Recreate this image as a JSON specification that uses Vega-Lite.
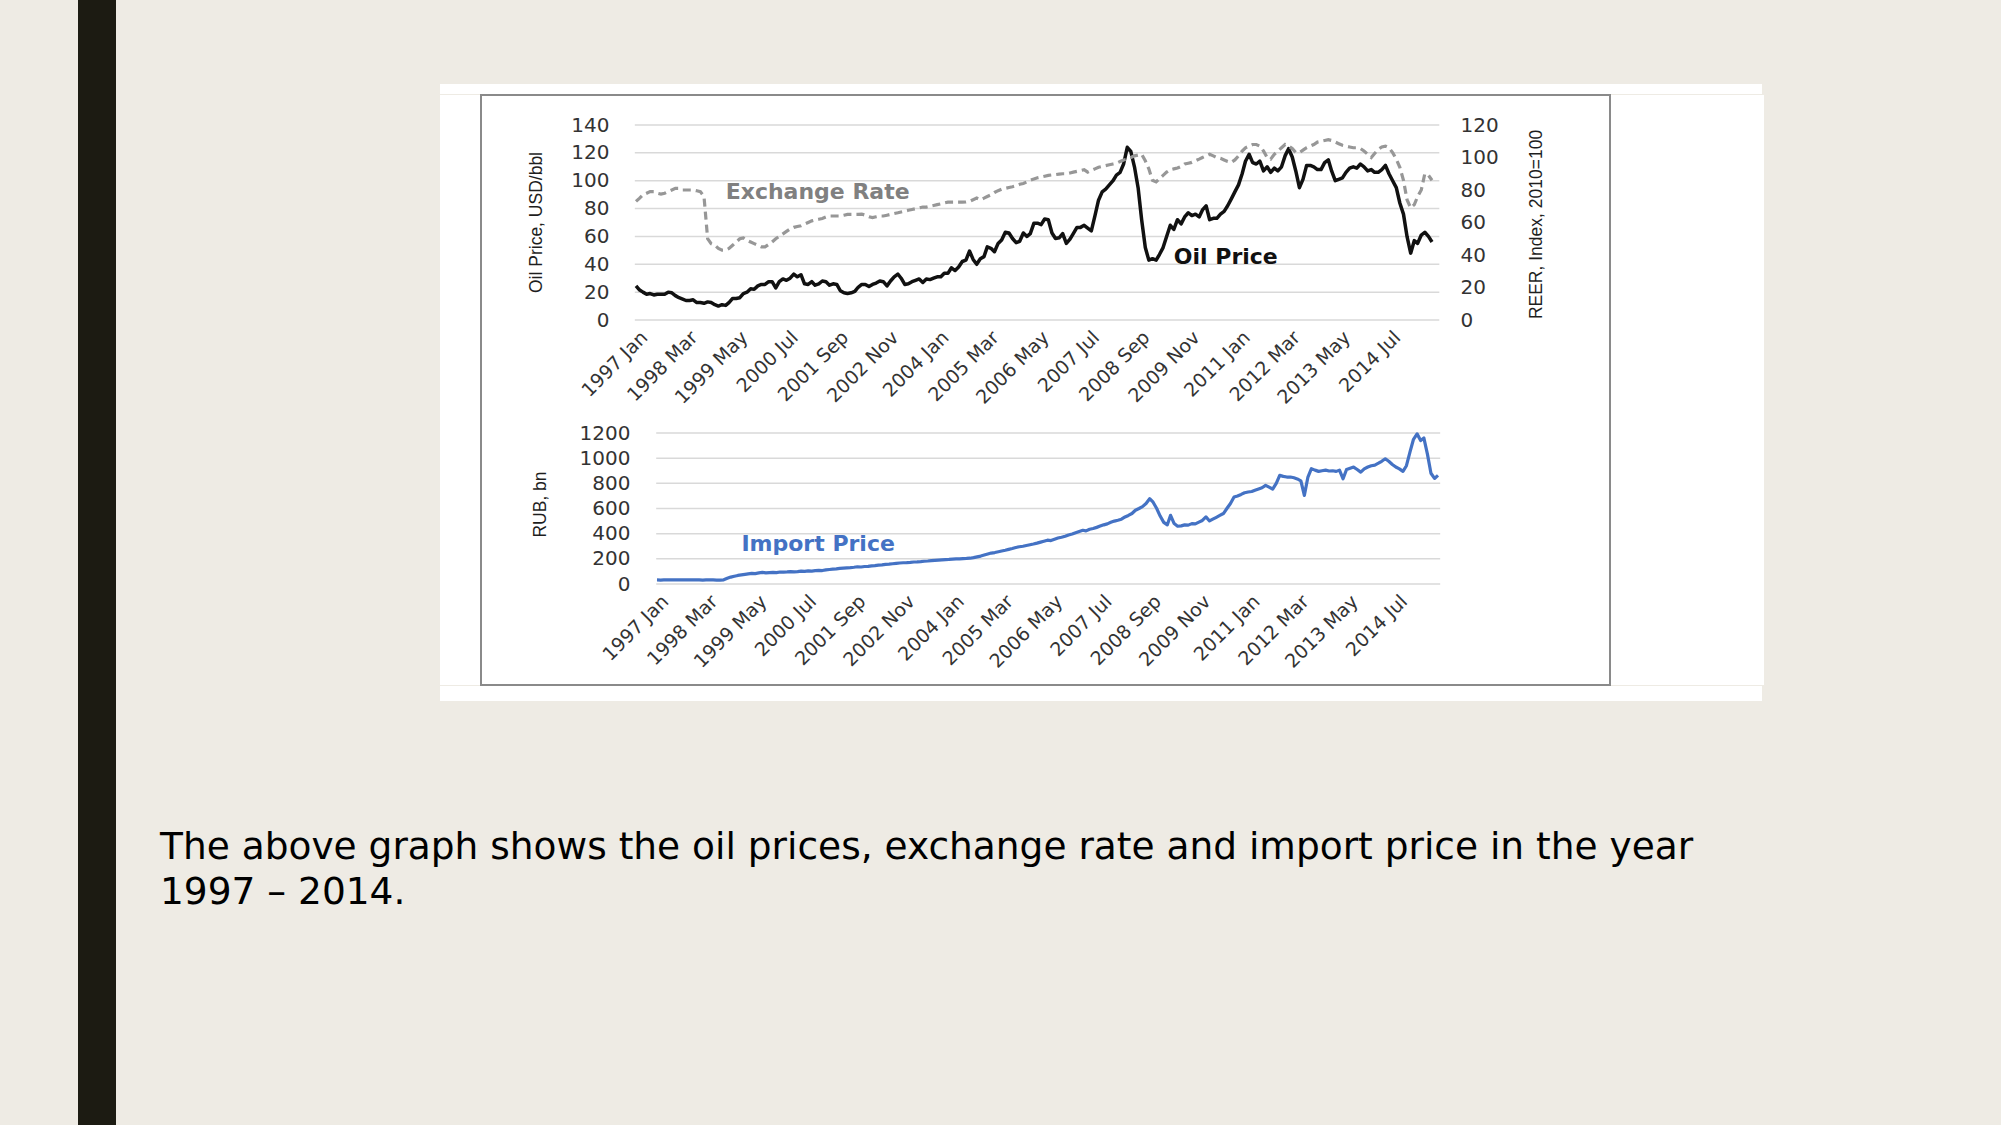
{
  "$schema": "https://vega.github.io/schema/vega-lite/v6.json",
  "background": "#EEEBE4",
  "padding": {"left": 78, "top": 0, "right": 239, "bottom": 0},
  "spacing": 44,
  "config": {
    "view": {"stroke": null},
    "concat": {"spacing": 0},
    "axis": {"zindex": 1, "domain": false, "ticks": false, "grid": false, "labelFont": "DejaVu Sans", "labelColor": "#333333", "titleFont": "Liberation Sans", "titleFontWeight": "normal", "titleColor": "#1e1e1e", "titleFontSize": 17.5, "labelOverlap": false, "labelFlush": false}
  },
  "datasets": {
    "m": [
      {"d":"1997-01","o":24.5,"r":73,"i":32},{"d":"1997-02","o":21.5,"r":75,"i":31},{"d":"1997-03","o":20,"r":77,"i":32},{"d":"1997-04","o":18.5,"r":78,"i":32},{"d":"1997-05","o":19,"r":79,"i":33},{"d":"1997-06","o":18,"r":79,"i":32},{"d":"1997-07","o":18.5,"r":78,"i":33},{"d":"1997-08","o":18.5,"r":77.5,"i":33},{"d":"1997-09","o":18.5,"r":78,"i":32},{"d":"1997-10","o":20,"r":79,"i":33},{"d":"1997-11","o":19.5,"r":80,"i":33},{"d":"1997-12","o":17.5,"r":81,"i":32},
      {"d":"1998-01","o":16,"r":81,"i":32},{"d":"1998-02","o":15,"r":80,"i":31},{"d":"1998-03","o":14,"r":80,"i":32},{"d":"1998-04","o":14,"r":80,"i":32},{"d":"1998-05","o":14.5,"r":80,"i":32},{"d":"1998-06","o":12.5,"r":79.5,"i":31},{"d":"1998-07","o":12.5,"r":79,"i":31},{"d":"1998-08","o":12,"r":76,"i":33},{"d":"1998-09","o":13,"r":50,"i":45},{"d":"1998-10","o":12.5,"r":47,"i":55},{"d":"1998-11","o":11,"r":46,"i":62},{"d":"1998-12","o":10,"r":44,"i":68},
      {"d":"1999-01","o":11,"r":43,"i":72},{"d":"1999-02","o":10.5,"r":43,"i":76},{"d":"1999-03","o":12.5,"r":44,"i":80},{"d":"1999-04","o":15.5,"r":46,"i":85},{"d":"1999-05","o":15.5,"r":48,"i":83},{"d":"1999-06","o":16,"r":50,"i":88},{"d":"1999-07","o":19,"r":50.5,"i":92},{"d":"1999-08","o":20,"r":49,"i":88},{"d":"1999-09","o":22.5,"r":48,"i":91},{"d":"1999-10","o":22,"r":47,"i":93},{"d":"1999-11","o":24.5,"r":46,"i":90},{"d":"1999-12","o":25.5,"r":45,"i":95},
      {"d":"2000-01","o":25.5,"r":45,"i":94},{"d":"2000-02","o":27.5,"r":46.5,"i":96},{"d":"2000-03","o":27.5,"r":48,"i":99},{"d":"2000-04","o":23,"r":50,"i":97},{"d":"2000-05","o":27.5,"r":51.5,"i":98},{"d":"2000-06","o":29.5,"r":53,"i":102},{"d":"2000-07","o":28.5,"r":54.5,"i":100},{"d":"2000-08","o":30,"r":56,"i":104},{"d":"2000-09","o":33,"r":57,"i":103},{"d":"2000-10","o":31,"r":57.5,"i":106},{"d":"2000-11","o":32.5,"r":58,"i":108},{"d":"2000-12","o":26,"r":59,"i":107},
      {"d":"2001-01","o":25.5,"r":60,"i":112},{"d":"2001-02","o":27.5,"r":61,"i":115},{"d":"2001-03","o":25,"r":61.5,"i":118},{"d":"2001-04","o":26,"r":62,"i":120},{"d":"2001-05","o":28,"r":62.5,"i":124},{"d":"2001-06","o":27.5,"r":63.4,"i":126},{"d":"2001-07","o":25,"r":64,"i":128},{"d":"2001-08","o":26,"r":64,"i":130},{"d":"2001-09","o":25.5,"r":64,"i":133},{"d":"2001-10","o":21,"r":64,"i":137},{"d":"2001-11","o":19.5,"r":64.5,"i":135},{"d":"2001-12","o":19,"r":65,"i":139},
      {"d":"2002-01","o":19.5,"r":65,"i":140},{"d":"2002-02","o":20.5,"r":65,"i":144},{"d":"2002-03","o":23.5,"r":65,"i":146},{"d":"2002-04","o":25.5,"r":65.2,"i":150},{"d":"2002-05","o":25.5,"r":64.5,"i":152},{"d":"2002-06","o":24,"r":63.5,"i":156},{"d":"2002-07","o":25.5,"r":63,"i":158},{"d":"2002-08","o":26.5,"r":63.5,"i":161},{"d":"2002-09","o":28,"r":64,"i":164},{"d":"2002-10","o":27.5,"r":64,"i":167},{"d":"2002-11","o":24.5,"r":64.5,"i":169},{"d":"2002-12","o":28,"r":65,"i":170},
      {"d":"2003-01","o":31,"r":65.5,"i":172},{"d":"2003-02","o":33,"r":66,"i":175},{"d":"2003-03","o":30,"r":66.5,"i":176},{"d":"2003-04","o":25.5,"r":67,"i":178},{"d":"2003-05","o":26,"r":67.5,"i":181},{"d":"2003-06","o":27.5,"r":68,"i":183},{"d":"2003-07","o":28.5,"r":68.5,"i":186},{"d":"2003-08","o":29.5,"r":69,"i":188},{"d":"2003-09","o":27,"r":69.5,"i":190},{"d":"2003-10","o":29.5,"r":69.5,"i":192},{"d":"2003-11","o":29,"r":70,"i":194},{"d":"2003-12","o":30,"r":70.5,"i":195},
      {"d":"2004-01","o":31,"r":71,"i":197},{"d":"2004-02","o":31,"r":71.5,"i":199},{"d":"2004-03","o":33.5,"r":72,"i":200},{"d":"2004-04","o":33.5,"r":72.5,"i":202},{"d":"2004-05","o":37.5,"r":72.5,"i":203},{"d":"2004-06","o":35.5,"r":72.5,"i":205},{"d":"2004-07","o":38,"r":72.5,"i":210},{"d":"2004-08","o":42,"r":72.5,"i":216},{"d":"2004-09","o":43,"r":72.6,"i":222},{"d":"2004-10","o":49.5,"r":73,"i":230},{"d":"2004-11","o":43.5,"r":74,"i":238},{"d":"2004-12","o":40,"r":75,"i":246},
      {"d":"2005-01","o":44,"r":74,"i":250},{"d":"2005-02","o":45.5,"r":75,"i":256},{"d":"2005-03","o":52.5,"r":76,"i":262},{"d":"2005-04","o":51.5,"r":77,"i":268},{"d":"2005-05","o":49,"r":78.5,"i":275},{"d":"2005-06","o":55,"r":79.6,"i":282},{"d":"2005-07","o":57.5,"r":80.5,"i":290},{"d":"2005-08","o":63,"r":81,"i":296},{"d":"2005-09","o":62.5,"r":81.5,"i":300},{"d":"2005-10","o":58.5,"r":82,"i":306},{"d":"2005-11","o":55.5,"r":82.6,"i":312},{"d":"2005-12","o":56.5,"r":83.5,"i":318},
      {"d":"2006-01","o":62.5,"r":84,"i":325},{"d":"2006-02","o":60,"r":85,"i":333},{"d":"2006-03","o":62,"r":86,"i":340},{"d":"2006-04","o":69.5,"r":86.8,"i":348},{"d":"2006-05","o":69.5,"r":87.5,"i":345},{"d":"2006-06","o":68.5,"r":88,"i":355},{"d":"2006-07","o":72.5,"r":88.5,"i":365},{"d":"2006-08","o":72,"r":89,"i":372},{"d":"2006-09","o":62.5,"r":89.3,"i":380},{"d":"2006-10","o":58.5,"r":89.5,"i":390},{"d":"2006-11","o":59,"r":89.8,"i":398},{"d":"2006-12","o":62,"r":90,"i":408},
      {"d":"2007-01","o":55,"r":90,"i":418},{"d":"2007-02","o":58,"r":90.5,"i":427},{"d":"2007-03","o":62,"r":91,"i":422},{"d":"2007-04","o":66.5,"r":91.5,"i":435},{"d":"2007-05","o":66.5,"r":92,"i":441},{"d":"2007-06","o":68,"r":92.5,"i":450},{"d":"2007-07","o":66,"r":91,"i":460},{"d":"2007-08","o":64,"r":92,"i":470},{"d":"2007-09","o":75,"r":93,"i":478},{"d":"2007-10","o":86,"r":94,"i":490},{"d":"2007-11","o":92,"r":94.5,"i":500},{"d":"2007-12","o":94,"r":95,"i":507},
      {"d":"2008-01","o":97,"r":95.5,"i":515},{"d":"2008-02","o":100,"r":96,"i":533},{"d":"2008-03","o":104,"r":96.5,"i":545},{"d":"2008-04","o":106,"r":97.5,"i":560},{"d":"2008-05","o":112,"r":98.5,"i":586},{"d":"2008-06","o":124,"r":99,"i":600},{"d":"2008-07","o":121,"r":100,"i":615},{"d":"2008-08","o":110,"r":101,"i":640},{"d":"2008-09","o":95,"r":101.5,"i":678},{"d":"2008-10","o":72,"r":102,"i":650},{"d":"2008-11","o":52,"r":98,"i":600},{"d":"2008-12","o":43,"r":93,"i":540},
      {"d":"2009-01","o":44,"r":86,"i":490},{"d":"2009-02","o":43,"r":85,"i":470},{"d":"2009-03","o":47,"r":87,"i":546},{"d":"2009-04","o":52,"r":89,"i":480},{"d":"2009-05","o":60,"r":91,"i":459},{"d":"2009-06","o":68,"r":92.5,"i":462},{"d":"2009-07","o":65,"r":93,"i":470},{"d":"2009-08","o":72,"r":93.5,"i":468},{"d":"2009-09","o":69,"r":94.5,"i":480},{"d":"2009-10","o":74,"r":96,"i":478},{"d":"2009-11","o":77,"r":96.5,"i":492},{"d":"2009-12","o":75,"r":97,"i":505},
      {"d":"2010-01","o":76,"r":98,"i":533},{"d":"2010-02","o":74,"r":99,"i":501},{"d":"2010-03","o":79,"r":100,"i":515},{"d":"2010-04","o":82,"r":101,"i":530},{"d":"2010-05","o":72,"r":102,"i":545},{"d":"2010-06","o":73,"r":101,"i":560},{"d":"2010-07","o":73,"r":100,"i":600},{"d":"2010-08","o":76,"r":99.5,"i":640},{"d":"2010-09","o":78,"r":98.5,"i":691},{"d":"2010-10","o":82,"r":97.5,"i":700},{"d":"2010-11","o":87,"r":97,"i":712},{"d":"2010-12","o":92,"r":98.5,"i":725},
      {"d":"2011-01","o":97,"r":101,"i":731},{"d":"2011-02","o":105,"r":104,"i":735},{"d":"2011-03","o":114,"r":106,"i":745},{"d":"2011-04","o":119,"r":107,"i":755},{"d":"2011-05","o":113,"r":108,"i":765},{"d":"2011-06","o":112,"r":108,"i":784},{"d":"2011-07","o":114,"r":107,"i":770},{"d":"2011-08","o":107,"r":104,"i":754},{"d":"2011-09","o":110,"r":100,"i":800},{"d":"2011-10","o":106,"r":99,"i":863},{"d":"2011-11","o":109,"r":102,"i":855},{"d":"2011-12","o":107,"r":104,"i":850},
      {"d":"2012-01","o":110,"r":106,"i":850},{"d":"2012-02","o":118,"r":108,"i":844},{"d":"2012-03","o":123,"r":107,"i":835},{"d":"2012-04","o":117,"r":105.5,"i":820},{"d":"2012-05","o":107,"r":103,"i":704},{"d":"2012-06","o":95,"r":103,"i":850},{"d":"2012-07","o":101,"r":104.5,"i":916},{"d":"2012-08","o":111,"r":106,"i":905},{"d":"2012-09","o":111,"r":107,"i":895},{"d":"2012-10","o":110,"r":108,"i":900},{"d":"2012-11","o":108,"r":109.5,"i":905},{"d":"2012-12","o":108,"r":110,"i":898},
      {"d":"2013-01","o":113,"r":110.5,"i":900},{"d":"2013-02","o":115,"r":111,"i":895},{"d":"2013-03","o":107,"r":110.5,"i":905},{"d":"2013-04","o":100,"r":109.5,"i":836},{"d":"2013-05","o":101,"r":108.5,"i":910},{"d":"2013-06","o":102,"r":107.5,"i":920},{"d":"2013-07","o":106,"r":107,"i":929},{"d":"2013-08","o":109,"r":106.5,"i":910},{"d":"2013-09","o":110,"r":106,"i":889},{"d":"2013-10","o":109,"r":106,"i":915},{"d":"2013-11","o":112,"r":105.5,"i":930},{"d":"2013-12","o":110,"r":104,"i":940},
      {"d":"2014-01","o":107,"r":102,"i":945},{"d":"2014-02","o":108,"r":100,"i":960},{"d":"2014-03","o":106,"r":102.5,"i":975},{"d":"2014-04","o":106,"r":105,"i":995},{"d":"2014-05","o":108,"r":106.5,"i":975},{"d":"2014-06","o":111,"r":107,"i":950},{"d":"2014-07","o":105,"r":106,"i":930},{"d":"2014-08","o":100,"r":103,"i":915},{"d":"2014-09","o":95,"r":99,"i":895},{"d":"2014-10","o":84,"r":94,"i":940},{"d":"2014-11","o":76,"r":86,"i":1050},{"d":"2014-12","o":60,"r":74,"i":1150},
      {"d":"2015-01","o":48,"r":69,"i":1193},{"d":"2015-02","o":57,"r":71,"i":1140},{"d":"2015-03","o":55,"r":76,"i":1160},{"d":"2015-04","o":61,"r":80,"i":1030},{"d":"2015-05","o":63,"r":90,"i":880},{"d":"2015-06","o":60,"r":89,"i":839},{"d":"2015-07","o":56,"r":86,"i":863}
    ]
  },
  "hconcat": [
    {"width": 38, "height": 1125, "view": {"fill": "#1C1B12", "stroke": null}, "data": {"values": []}, "mark": "point"},
    {
      "spacing": 0,
      "vconcat": [
        {"width": 10, "height": 84, "data": {"values": []}, "mark": "point"},
        {
          "spacing": 0,
          "hconcat": [
            {"width": 280, "height": 10, "data": {"values": []}, "mark": "point"},
            {
              "spacing": 0,
              "vconcat": [
                {"width": 1322, "height": 10, "view": {"fill": "#FFFFFF", "stroke": null}, "data": {"values": []}, "mark": "point"},
                {
                  "spacing": 0,
                  "hconcat": [
                    {"width": 40, "height": 590, "view": {"fill": "#FFFFFF", "stroke": null}, "data": {"values": []}, "mark": "point"},
                    {
                      "width": 1129,
                      "height": 590,
                      "view": {"fill": "#FFFFFF", "stroke": "#8a8a8a", "strokeWidth": 2},
                      "resolve": {"scale": {"x": "independent", "y": "independent"}, "axis": {"x": "independent", "y": "independent"}},
                      "layer": [
                        {
                          "data": {"values": [{"g":0},{"g":20},{"g":40},{"g":60},{"g":80},{"g":100},{"g":120},{"g":140}]},
                          "mark": {"type": "rule", "color": "#d9d9d9", "strokeWidth": 1.5},
                          "encoding": {
                            "x": {"datum": {"year": 1996, "month": 12, "date": 22}, "type": "temporal", "scale": {"domain": [{"year": 1997, "month": 1, "date": 1}, {"year": 2015, "month": 7, "date": 1}], "range": [155, 951]}, "axis": null},
                            "x2": {"datum": {"year": 2015, "month": 9, "date": 1}},
                            "y": {"field": "g", "type": "quantitative", "scale": {"domain": [0, 140], "range": [225, 30], "nice": false, "zero": false},
                              "axis": {"orient": "left", "offset": -139, "values": [0,20,40,60,80,100,120,140], "labelPadding": 11, "labelFontSize": 20, "title": "Oil Price, USD/bbl", "titleAngle": -90, "titleX": -84, "titleY": 127, "titleAlign": "center", "titleBaseline": "middle"}}
                          }
                        },
                        {
                          "data": {"name": "m"},
                          "mark": {"type": "line", "color": "#111111", "strokeWidth": 3.5, "strokeJoin": "round"},
                          "encoding": {
                            "x": {"field": "d", "type": "temporal", "scale": {"domain": [{"year": 1997, "month": 1, "date": 1}, {"year": 2015, "month": 7, "date": 1}], "range": [155, 951]},
                              "axis": {"orient": "bottom", "offset": -365, "values": [{"year":1997,"month":1},{"year":1998,"month":3},{"year":1999,"month":5},{"year":2000,"month":7},{"year":2001,"month":9},{"year":2002,"month":11},{"year":2004,"month":1},{"year":2005,"month":3},{"year":2006,"month":5},{"year":2007,"month":7},{"year":2008,"month":9},{"year":2009,"month":11},{"year":2011,"month":1},{"year":2012,"month":3},{"year":2013,"month":5},{"year":2014,"month":7}], "format": "%Y %b", "labelAngle": -45, "labelAlign": "right", "labelBaseline": "middle", "labelPadding": 14, "labelOffset": 8, "labelFontSize": 19, "title": null}},
                            "y": {"field": "o", "type": "quantitative", "scale": {"domain": [0, 140], "range": [225, 30], "nice": false, "zero": false}, "axis": null}
                          }
                        },
                        {
                          "data": {"values": [{"t": "Oil Price", "d": "2009-07", "v": 45}]},
                          "mark": {"type": "text", "align": "left", "baseline": "middle", "font": "DejaVu Sans", "fontWeight": "bold", "fontSize": 22, "color": "#111111"},
                          "encoding": {
                            "x": {"field": "d", "type": "temporal", "scale": {"domain": [{"year": 1997, "month": 1, "date": 1}, {"year": 2015, "month": 7, "date": 1}], "range": [155, 951]}, "axis": null},
                            "y": {"field": "v", "type": "quantitative", "scale": {"domain": [0, 140], "range": [225, 30], "nice": false, "zero": false}, "axis": null},
                            "text": {"field": "t"}
                          }
                        },
                        {
                          "data": {"name": "m"},
                          "mark": {"type": "line", "color": "#979797", "strokeWidth": 3.2, "strokeDash": [8, 5]},
                          "encoding": {
                            "x": {"field": "d", "type": "temporal", "scale": {"domain": [{"year": 1997, "month": 1, "date": 1}, {"year": 2015, "month": 7, "date": 1}], "range": [155, 951]}, "axis": null},
                            "y": {"field": "r", "type": "quantitative", "scale": {"domain": [0, 120], "range": [225, 30], "nice": false, "zero": false},
                              "axis": {"orient": "right", "offset": -158, "values": [0,20,40,60,80,100,120], "labelPadding": 8, "labelFontSize": 20, "title": "REER, Index, 2010=100", "titleAngle": -90, "titleX": 84, "titleY": 129, "titleAlign": "center", "titleBaseline": "middle"}}
                          }
                        },
                        {
                          "data": {"values": [{"t": "Exchange Rate", "d": "1999-02", "v": 79}]},
                          "mark": {"type": "text", "align": "left", "baseline": "middle", "font": "DejaVu Sans", "fontWeight": "bold", "fontSize": 22, "color": "#808080"},
                          "encoding": {
                            "x": {"field": "d", "type": "temporal", "scale": {"domain": [{"year": 1997, "month": 1, "date": 1}, {"year": 2015, "month": 7, "date": 1}], "range": [155, 951]}, "axis": null},
                            "y": {"field": "v", "type": "quantitative", "scale": {"domain": [0, 120], "range": [225, 30], "nice": false, "zero": false}, "axis": null},
                            "text": {"field": "t"}
                          }
                        },
                        {
                          "data": {"values": [{"g":0},{"g":200},{"g":400},{"g":600},{"g":800},{"g":1000},{"g":1200}]},
                          "mark": {"type": "rule", "color": "#d9d9d9", "strokeWidth": 1.5},
                          "encoding": {
                            "x": {"datum": {"year": 1996, "month": 12, "date": 25}, "type": "temporal", "scale": {"domain": [{"year": 1997, "month": 1, "date": 1}, {"year": 2015, "month": 7, "date": 1}], "range": [176, 957]}, "axis": null},
                            "x2": {"datum": {"year": 2015, "month": 7, "date": 20}},
                            "y": {"field": "g", "type": "quantitative", "scale": {"domain": [0, 1200], "range": [489, 338], "nice": false, "zero": false},
                              "axis": {"orient": "left", "offset": -160, "values": [0,200,400,600,800,1000,1200], "format": "d", "labelPadding": 11, "labelFontSize": 20, "title": "RUB, bn", "titleAngle": -90, "titleX": -101, "titleY": 409, "titleAlign": "center", "titleBaseline": "middle"}}
                          }
                        },
                        {
                          "data": {"name": "m"},
                          "mark": {"type": "line", "color": "#4472C4", "strokeWidth": 3.2, "strokeJoin": "round"},
                          "encoding": {
                            "x": {"field": "d", "type": "temporal", "scale": {"domain": [{"year": 1997, "month": 1, "date": 1}, {"year": 2015, "month": 7, "date": 1}], "range": [176, 957]},
                              "axis": {"orient": "bottom", "offset": -101, "values": [{"year":1997,"month":1},{"year":1998,"month":3},{"year":1999,"month":5},{"year":2000,"month":7},{"year":2001,"month":9},{"year":2002,"month":11},{"year":2004,"month":1},{"year":2005,"month":3},{"year":2006,"month":5},{"year":2007,"month":7},{"year":2008,"month":9},{"year":2009,"month":11},{"year":2011,"month":1},{"year":2012,"month":3},{"year":2013,"month":5},{"year":2014,"month":7}], "format": "%Y %b", "labelAngle": -45, "labelAlign": "right", "labelBaseline": "middle", "labelPadding": 14, "labelOffset": 8, "labelFontSize": 19, "title": null}},
                            "y": {"field": "i", "type": "quantitative", "scale": {"domain": [0, 1200], "range": [489, 338], "nice": false, "zero": false}, "axis": null}
                          }
                        },
                        {
                          "data": {"values": [{"t": "Import Price", "d": "1999-01", "v": 320}]},
                          "mark": {"type": "text", "align": "left", "baseline": "middle", "font": "DejaVu Sans", "fontWeight": "bold", "fontSize": 22, "color": "#4472C4"},
                          "encoding": {
                            "x": {"field": "d", "type": "temporal", "scale": {"domain": [{"year": 1997, "month": 1, "date": 1}, {"year": 2015, "month": 7, "date": 1}], "range": [176, 957]}, "axis": null},
                            "y": {"field": "v", "type": "quantitative", "scale": {"domain": [0, 1200], "range": [489, 338], "nice": false, "zero": false}, "axis": null},
                            "text": {"field": "t"}
                          }
                        }
                      ]
                    },
                    {"width": 153, "height": 590, "view": {"fill": "#FFFFFF", "stroke": null}, "data": {"values": []}, "mark": "point"}
                  ]
                },
                {"width": 1322, "height": 15, "view": {"fill": "#FFFFFF", "stroke": null}, "data": {"values": []}, "mark": "point"}
              ]
            }
          ]
        },
        {
          "width": 1540,
          "height": 128,
          "data": {"values": []},
          "mark": "point",
          "title": {"text": ["The above graph shows the oil prices, exchange rate and import price in the year", "1997 – 2014."], "orient": "bottom", "anchor": "start", "baseline": "top", "offset": 0, "font": "DejaVu Sans", "fontSize": 37.5, "fontWeight": "normal", "color": "#000000", "lineHeight": 45}
        }
      ]
    }
  ]
}
